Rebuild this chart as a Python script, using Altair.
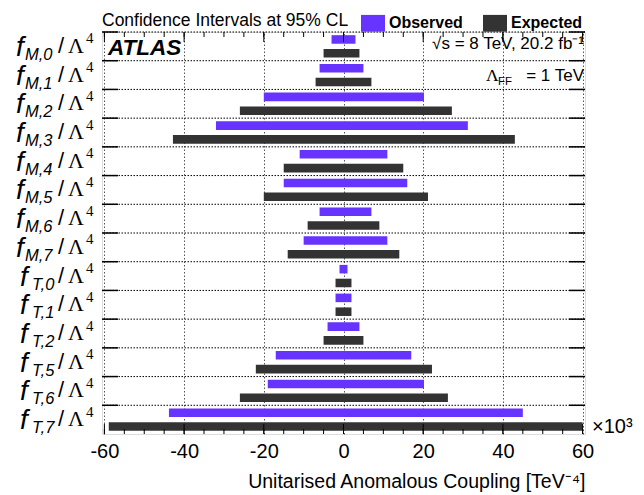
import altair as alt
import pandas as pd

# ---- data (units: x10^3 TeV^-4) ----
coefs = ["M,0", "M,1", "M,2", "M,3", "M,4", "M,5", "M,6", "M,7",
         "T,0", "T,1", "T,2", "T,5", "T,6", "T,7"]
obs_lo = [-3, -6, -20, -32, -11, -15, -6, -10, -1, -2, -4, -17, -19, -43.8]
obs_hi = [3, 5, 20.2, 31.2, 11, 16, 7, 11, 1, 2, 4, 17, 20.2, 45]
exp_lo = [-5, -7, -26, -42.8, -15, -20, -9, -14, -2, -2, -5, -22, -26, -58.9]
exp_hi = [4, 7, 27.2, 43, 15, 21.2, 9, 14, 2, 2, 5, 22.2, 26.2, 60]
series = ["Observed", "Expected"]
colors = ["#6633ff", "#333333"]
x_major = [-60, -40, -20, 0, 20, 40, 60]
x_minor = list(range(-60, 61, 5))

rows = []
for i, c in enumerate(coefs):
    rows.append({"coef": c, "type": "Observed", "lo": obs_lo[i], "hi": obs_hi[i]})
    rows.append({"coef": c, "type": "Expected", "lo": exp_lo[i], "hi": exp_hi[i]})
df = pd.DataFrame(rows)
lab = pd.DataFrame({"coef": coefs, "g": [c[0] for c in coefs]})
one = pd.DataFrame({"a": [0]})

W, H = 483, 402
FONT = "Liberation Sans"
SERIF = "Liberation Serif"

xscale = alt.Scale(domain=[-60.6, 60.6], nice=False, zero=False)
yscale = alt.Scale(domain=coefs, paddingInner=0, paddingOuter=0)

# horizontal row separators
hlines = alt.Chart(lab).mark_rule(color="black", strokeWidth=1, strokeDash=[1.5, 1.5]).encode(
    y=alt.Y("coef:N", bandPosition=0, scale=yscale, axis=None)
)

bars = alt.Chart(df).mark_bar().encode(
    x=alt.X("lo:Q", scale=xscale,
            axis=alt.Axis(values=x_major, grid=True, gridDash=[1.5, 2], gridColor="#555555",
                          gridWidth=1, ticks=False, domain=False, labelFontSize=20, labelFont=FONT,
                          labelColor="black", labelPadding=7, labelFlush=False,
                          labelExpr="'' + datum.value",
                          title="Unitarised Anomalous Coupling [TeV⁻⁴]", titleFontSize=19.5,
                          titleFont=FONT, titleFontWeight="normal", titleColor="black",
                          titleAnchor="end", titlePadding=11)),
    x2="hi:Q",
    y=alt.Y("coef:N", scale=yscale, axis=None),
    yOffset=alt.YOffset("type:N", sort=series,
                        scale=alt.Scale(domain=series, paddingInner=0.38, paddingOuter=0.23)),
    color=alt.Color("type:N", sort=series,
                    scale=alt.Scale(domain=series, range=colors),
                    legend=alt.Legend(orient="none", legendX=0, legendY=-21, direction="horizontal",
                                      title="Confidence Intervals at 95% CL", titleOrient="left",
                                      titleFontSize=17.5, titleFontWeight="normal", titleFont=FONT,
                                      titleColor="black", titlePadding=12, titleLimit=400,
                                      labelFontSize=16, labelFontWeight="bold", labelFont=FONT,
                                      labelColor="black", labelOffset=4, columnPadding=20,
                                      labelLimit=200,
                                      symbolType="M-1,-0.7H1V0.7H-1Z", symbolSize=576,
                                      symbolStrokeWidth=0, symbolOpacity=1)),
)

# inward ticks on x (top and bottom)
def xticks(vals, y0, y1):
    return alt.Chart(pd.DataFrame({"lo": vals})).mark_rule(color="black", strokeWidth=1).encode(
        x=alt.X("lo:Q", scale=xscale), y=alt.value(y0), y2=alt.value(y1))

tk = [xticks(x_minor, H, H - 5), xticks(x_major, H, H - 10),
      xticks(x_minor, 0, 5), xticks(x_major, 0, 10)]

# inward ticks on y (left and right)
ytl = alt.Chart(lab).mark_rule(color="black", strokeWidth=1.5).encode(
    y=alt.Y("coef:N", bandPosition=0, scale=yscale, axis=None), x=alt.value(0), x2=alt.value(16))
ytr = alt.Chart(lab).mark_rule(color="black", strokeWidth=1.5).encode(
    y=alt.Y("coef:N", bandPosition=0, scale=yscale, axis=None), x=alt.value(W - 16), x2=alt.value(W))

# y labels  f_{X,n} / Λ^4
def ylab(text_field, g, xpos, size, dy, font=FONT, style="normal", const=None):
    base = alt.Chart(lab).transform_filter(alt.datum.g == g) if g else alt.Chart(lab)
    kw = dict(font=font, fontSize=size, fontStyle=style, align="left", baseline="alphabetic",
              dy=dy, color="black")
    if const is not None:
        m = base.mark_text(text=const, **kw)
        return m.encode(y=alt.Y("coef:N", scale=yscale, axis=None), x=alt.value(xpos))
    m = base.mark_text(**kw)
    return m.encode(y=alt.Y("coef:N", scale=yscale, axis=None), x=alt.value(xpos),
                    text=alt.Text(text_field + ":N"))

ylabels = [
    ylab(None, "M", -86, 28, 9.5, style="italic", const="f"),
    ylab(None, "T", -82, 28, 9.5, style="italic", const="f"),
    ylab("coef", "M", -77, 16.5, 13.5, style="italic"),
    ylab("coef", "T", -70, 16.5, 13.5, style="italic"),
    ylab(None, None, -44, 22, 6.5, font=FONT, const="/"),
    ylab(None, None, -34, 22, 6.5, font=SERIF, const="Λ"),
    ylab(None, None, -16, 15, -3, font=SERIF, const="4"),
]

def note(text, x, y, size, align="left", weight="normal", style="normal", font=FONT):
    return alt.Chart(one).mark_text(text=text, font=font, fontSize=size, fontWeight=weight,
                                    fontStyle=style, align=align, baseline="alphabetic",
                                    color="black").encode(x=alt.value(x), y=alt.value(y))

notes = [
    note("ATLAS", 6, 23, 22.5, weight="bold", style="italic"),
    note("√s = 8 TeV, 20.2 fb⁻¹", W - 1, 16.6, 17, align="right"),
    note("= 1 TeV", W - 1, 48.5, 17, align="right"),
    note("Λ", 384, 48.5, 17.5, font=SERIF),
    note("FF", 396, 52.5, 11.5),
    note("×10³", W + 7, H - 1, 20),
]

chart = alt.layer(hlines, bars, *tk, ytl, ytr, *ylabels, *notes).properties(
    width=W, height=H,
    autosize=alt.AutoSizeParams(type="none"),
    padding={"left": 94, "top": 24, "right": 51, "bottom": 61},
).configure_view(stroke="black", strokeWidth=2).configure(font=FONT)

chart.save("out.html", embed_options={"renderer": "svg", "actions": False})
